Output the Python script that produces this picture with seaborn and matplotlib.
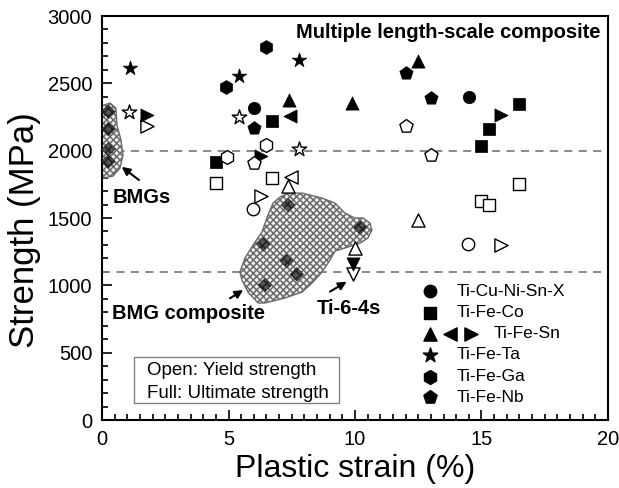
import matplotlib
matplotlib.use('Agg')
import matplotlib.pyplot as plt
import seaborn as sns
from matplotlib.patches import Polygon, Rectangle
from matplotlib.ticker import MultipleLocator

# values: plastic strain (%) and strength (MPa)
# open = yield strength, full = ultimate strength
cuni_yield_x = [5.98, 14.48]
cuni_yield_y = [1570, 1305]
cuni_ult_x = [6.0, 14.5]
cuni_ult_y = [2320, 2395]

feco_yield_x = [4.49, 6.7, 15.0, 15.3, 16.5]
feco_yield_y = [1763, 1797, 1626, 1596, 1750]
feco_ult_x = [4.49, 6.7, 15.0, 15.3, 16.5]
feco_ult_y = [1918, 2220, 2037, 2160, 2350]

fesn_up_yield_x = [7.36, 10.0, 12.5]
fesn_up_yield_y = [1740, 1275, 1485]
fesn_up_ult_x = [7.4, 9.9, 12.5]
fesn_up_ult_y = [2376, 2353, 2665]
fesn_left_yield_x = [7.48]
fesn_left_yield_y = [1807]
fesn_left_ult_x = [7.43]
fesn_left_ult_y = [2259]
fesn_right_yield_x = [1.77, 6.27, 15.77]
fesn_right_yield_y = [2185, 1663, 1299]
fesn_right_ult_x = [1.77, 6.27, 15.77]
fesn_right_ult_y = [2264, 1960, 2264]

feta_yield_x = [1.08, 5.41, 7.8]
feta_yield_y = [2289, 2252, 2012]
feta_ult_x = [1.1, 5.41, 7.8]
feta_ult_y = [2615, 2554, 2672]

fega_yield_x = [6.5, 4.93]
fega_yield_y = [2042, 1950]
fega_ult_x = [6.48, 4.9]
fega_ult_y = [2767, 2470]

fenb_yield_x = [6.0, 12.0, 13.0]
fenb_yield_y = [1905, 2183, 1967]
fenb_ult_x = [6.02, 12.0, 13.0]
fenb_ult_y = [2165, 2579, 2393]

ti64_yield_x = [9.93]
ti64_yield_y = [1082]
ti64_ult_x = [9.93]
ti64_ult_y = [1156]

# BMG and BMG composite regions (outline) and their points
bmg_area_x = [-0.04, 0.32, 0.55, 0.59, 0.75, 0.83, 0.71, 0.43, 0.08, -0.04]
bmg_area_y = [2331, 2354, 2316, 2190, 2079, 1967, 1871, 1811, 1797, 1856]
bmg_pts_x = [0.25, 0.25, 0.25, 0.25]
bmg_pts_y = [2290, 2160, 2010, 1920]

comp_area_x = [6.76, 7.04, 7.35, 7.91, 8.70, 9.21, 9.60, 9.99, 10.32, 10.59, 10.67,
               10.51, 10.20, 9.60, 9.21, 9.01, 8.70, 8.30, 7.91, 7.23, 6.44, 6.17,
               5.77, 5.53, 5.45, 5.65, 5.97, 6.32, 6.56]
comp_area_y = [1611, 1656, 1685, 1685, 1648, 1611, 1537, 1500, 1500, 1463, 1411,
               1351, 1314, 1277, 1255, 1188, 1099, 1017, 950, 906, 869, 869,
               950, 1039, 1099, 1203, 1299, 1396, 1522]
comp_pts_x = [7.36, 6.38, 7.3, 7.7, 6.44, 10.2]
comp_pts_y = [1596, 1304, 1180, 1082, 1002, 1428]

ref_lines = [2000, 1100]

legend_labels = ['Ti-Cu-Ni-Sn-X', 'Ti-Fe-Co', 'Ti-Fe-Sn', 'Ti-Fe-Ta', 'Ti-Fe-Ga', 'Ti-Fe-Nb']
legend_markers = [['o'], ['s'], ['^', '<', '>'], ['*'], ['h'], ['p']]

sizes = {'o': 80, 's': 72, '^': 90, '<': 90, '>': 90, 'v': 90, '*': 120, 'h': 100, 'p': 100}

series = [
    ('o', cuni_yield_x, cuni_yield_y, cuni_ult_x, cuni_ult_y),
    ('s', feco_yield_x, feco_yield_y, feco_ult_x, feco_ult_y),
    ('^', fesn_up_yield_x, fesn_up_yield_y, fesn_up_ult_x, fesn_up_ult_y),
    ('<', fesn_left_yield_x, fesn_left_yield_y, fesn_left_ult_x, fesn_left_ult_y),
    ('>', fesn_right_yield_x, fesn_right_yield_y, fesn_right_ult_x, fesn_right_ult_y),
    ('*', feta_yield_x, feta_yield_y, feta_ult_x, feta_ult_y),
    ('h', fega_yield_x, fega_yield_y, fega_ult_x, fega_ult_y),
    ('p', fenb_yield_x, fenb_yield_y, fenb_ult_x, fenb_ult_y),
    ('v', ti64_yield_x, ti64_yield_y, ti64_ult_x, ti64_ult_y),
]

sns.set_style('ticks')
plt.rcParams['font.family'] = ['Liberation Sans', 'DejaVu Sans']
plt.rcParams['hatch.linewidth'] = 1.1
plt.rcParams['text.color'] = 'black'
plt.rcParams['axes.labelcolor'] = 'black'

fig = plt.figure(figsize=(6.19, 4.88), dpi=100)
ax = fig.add_axes([0.1648, 0.1393, 0.8174, 0.8279])

for yv in ref_lines:
    ax.axhline(yv, color='#808080', lw=1.3, ls=(0, (4.5, 3.5)), zorder=1)

# shaded regions
for xs, ys in [(bmg_area_x, bmg_area_y), (comp_area_x, comp_area_y)]:
    ax.add_patch(Polygon(list(zip(xs, ys)), closed=True, facecolor='#f0f0f0',
                         edgecolor='#6a6a6a', hatch='xxxxx', lw=1, zorder=2))
for xs, ys in [(bmg_pts_x, bmg_pts_y), (comp_pts_x, comp_pts_y)]:
    sns.scatterplot(x=xs, y=ys, marker='D', s=45, color='#555555', edgecolor='#222222',
                    linewidth=0.5, hatch='xxxx', zorder=3, ax=ax, legend=False)

for m, yx, yy, ux, uy in series:
    sns.scatterplot(x=yx, y=yy, marker=m, s=sizes[m], color='black', facecolor='white',
                    edgecolor='black', linewidth=1, zorder=4, ax=ax, legend=False)
    sns.scatterplot(x=ux, y=uy, marker=m, s=sizes[m], color='black',
                    edgecolor='black', linewidth=0.5, zorder=4, ax=ax, legend=False)

ax.set_xlim(0, 20)
ax.set_ylim(0, 3000)
ax.xaxis.set_major_locator(MultipleLocator(5))
ax.xaxis.set_minor_locator(MultipleLocator(0.5))
ax.yaxis.set_major_locator(MultipleLocator(500))
ax.yaxis.set_minor_locator(MultipleLocator(100))
ax.tick_params(which='both', direction='in', top=False, right=False, width=1.2,
               colors='black', labelsize=14.5)
ax.tick_params(which='major', length=7, pad=7)
ax.tick_params(which='minor', length=4)
for sp in ax.spines.values():
    sp.set_linewidth(1.5)
    sp.set_color('black')

ax.set_xlabel('Plastic strain (%)', fontsize=23, color='black')
ax.set_ylabel('Strength (MPa)', fontsize=25, color='black')
ax.yaxis.set_label_coords(-0.12, 0.47)

# annotations
bold = dict(fontsize=14.5, fontweight='bold', color='black')
ax.text(19.7, 2880, 'Multiple length-scale composite', ha='right', va='center', **bold)
ax.text(0.43, 1650, 'BMGs', ha='left', va='center', **bold)
ax.text(0.4, 794, 'BMG composite', ha='left', va='center', **bold)
ax.text(8.5, 831, 'Ti-6-4s', ha='left', va='center', **bold)

arrow = dict(arrowstyle='-|>', color='black', lw=1.5, mutation_scale=12, shrinkA=0, shrinkB=0)
ax.annotate('', xy=(0.78, 1880), xytext=(1.46, 1782), arrowprops=arrow)
ax.annotate('', xy=(5.58, 965), xytext=(5.06, 904), arrowprops=arrow)
ax.annotate('', xy=(9.67, 1027), xytext=(9.01, 953), arrowprops=arrow)

# note box
ax.add_patch(Rectangle((0.063, 0.041), 0.405, 0.1156, transform=ax.transAxes,
                       facecolor='white', edgecolor='#808080', lw=1, zorder=5))
ax.text(0.088, 0.122, 'Open: Yield strength', transform=ax.transAxes, fontsize=13.5,
        va='center', ha='left', zorder=6, color='black')
ax.text(0.088, 0.066, 'Full: Ultimate strength', transform=ax.transAxes, fontsize=13.5,
        va='center', ha='left', zorder=6, color='black')

# legend
row_y = [0.319, 0.266, 0.214, 0.161, 0.107, 0.056]
for i, (lab, ms) in enumerate(zip(legend_labels, legend_markers)):
    for j, m in enumerate(ms):
        ax.scatter(0.648 + 0.0405 * j, row_y[i], marker=m, s=sizes[m], color='black',
                   transform=ax.transAxes, clip_on=False, zorder=6)
    tx = 0.701 if len(ms) == 1 else 0.773
    ax.text(tx, row_y[i], lab, transform=ax.transAxes, fontsize=12.5, va='center',
            ha='left', color='black')

fig.savefig('out.png', dpi=100)
